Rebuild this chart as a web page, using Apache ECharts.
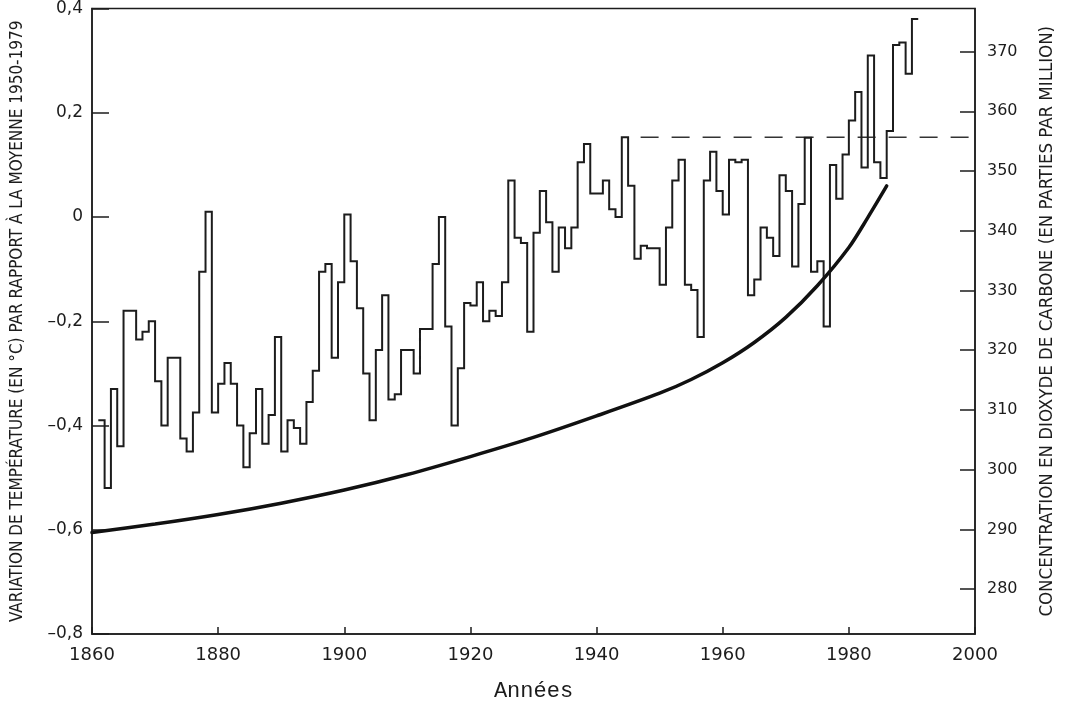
<!DOCTYPE html>
<html>
<head>
<meta charset="utf-8">
<script src="https://cdn.jsdelivr.net/npm/echarts@6.0.0/dist/echarts.min.js"></script>
<style>
html,body{margin:0;padding:0;background:#ffffff;}
#chart{width:1070px;height:708px;}
</style>
</head>
<body>
<div id="chart"></div>
<script>
// ---- data ----
const tempFirstYear = 1861;
// annual temperature anomaly (°C, relative to 1950-1979), 1861 .. 1990
const tempAnomaly = [
  -0.39, -0.52, -0.33, -0.44, -0.18, -0.18, -0.235, -0.22, -0.20, -0.315,   // 1861-1870
  -0.40, -0.27, -0.27, -0.425, -0.45, -0.375, -0.105, 0.01, -0.375, -0.32,  // 1871-1880
  -0.28, -0.32, -0.40, -0.48, -0.415, -0.33, -0.435, -0.38, -0.23, -0.45,   // 1881-1890
  -0.39, -0.405, -0.435, -0.355, -0.295, -0.105, -0.09, -0.27, -0.125, 0.005, // 1891-1900
  -0.085, -0.175, -0.30, -0.39, -0.255, -0.15, -0.35, -0.34, -0.255, -0.255, // 1901-1910
  -0.30, -0.215, -0.215, -0.09, 0.0, -0.21, -0.40, -0.29, -0.165, -0.17,    // 1911-1920
  -0.125, -0.20, -0.18, -0.19, -0.125, 0.07, -0.04, -0.05, -0.22, -0.03,    // 1921-1930
  0.05, -0.01, -0.105, -0.02, -0.06, -0.02, 0.105, 0.14, 0.045, 0.045,      // 1931-1940
  0.07, 0.015, 0.0, 0.153, 0.06, -0.08, -0.055, -0.06, -0.06, -0.13,        // 1941-1950
  -0.02, 0.07, 0.11, -0.13, -0.14, -0.23, 0.07, 0.125, 0.05, 0.005,         // 1951-1960
  0.11, 0.105, 0.11, -0.15, -0.12, -0.02, -0.04, -0.075, 0.08, 0.05,        // 1961-1970
  -0.095, 0.025, 0.152, -0.105, -0.085, -0.21, 0.10, 0.035, 0.12, 0.185,    // 1971-1980
  0.24, 0.095, 0.31, 0.105, 0.075, 0.165, 0.33, 0.335, 0.275, 0.38         // 1981-1990
];
// CO2 concentration (ppm)
const co2Years = [1860, 1870, 1880, 1890, 1900, 1910, 1920, 1930, 1940, 1950, 1955, 1960, 1965, 1970, 1975, 1980, 1983, 1986];
const co2Ppm   = [289.5, 290.9, 292.5, 294.4, 296.6, 299.2, 302.2, 305.4, 309.0, 312.8, 315.1, 317.9, 321.3, 325.5, 330.8, 337.2, 342.2, 347.5];
// tick labels
const yearTicks = [1860, 1880, 1900, 1920, 1940, 1960, 1980, 2000];
const tempTicks = [-0.8, -0.6, -0.4, -0.2, 0, 0.2, 0.4];
const co2Ticks  = [280, 290, 300, 310, 320, 330, 340, 350, 360, 370];
// dashed reference line: level of the pre-1946 maximum, drawn from the end of that year to the axis end
const dashedFromYear = 1945;

// ---- build series data ----
const years = tempAnomaly.map((v, i) => tempFirstYear + i);
const stepData = years.map((y, i) => [y, tempAnomaly[i]]);
stepData.push([years[years.length - 1] + 1, tempAnomaly[tempAnomaly.length - 1]]);
const co2Data = co2Years.map((y, i) => [y, co2Ppm[i]]);
const peakLevel = Math.max(...tempAnomaly.filter((v, i) => years[i] < dashedFromYear));
const dashedData = [[dashedFromYear, peakLevel], [yearTicks[yearTicks.length - 1], peakLevel]];

const INK = '#1c1c1c';
const numFont = "'DejaVu Sans', 'Liberation Sans', sans-serif";
const titleFont = "'DejaVu Sans Condensed', 'Liberation Sans Narrow', 'Liberation Sans', sans-serif";

function fmtTemp(v) {
  const r = Math.round(v * 10) / 10;
  if (r === 0) return '0';
  const s = Math.abs(r).toFixed(1).replace('.', ',');
  return r < 0 ? '\u2013' + s : s;
}

const chart = echarts.init(document.getElementById('chart'), null, {renderer: 'canvas'});
chart.setOption({
  animation: false,
  backgroundColor: '#ffffff',
  grid: {
    left: 92, right: 95, top: 7, bottom: 74,
    show: true, borderColor: INK, borderWidth: 1.5, backgroundColor: 'transparent'
  },
  xAxis: {
    type: 'value',
    min: yearTicks[0], max: yearTicks[yearTicks.length - 1], interval: 20,
    name: 'Ann\u00e9es',
    nameLocation: 'middle',
    nameGap: 46,
    nameTextStyle: {fontFamily: "'Liberation Mono', 'DejaVu Sans Mono', monospace", fontSize: 22, color: INK},
    axisLine: {show: true, onZero: false, lineStyle: {color: INK, width: 1.5}},
    axisTick: {show: true, inside: true, length: 7, lineStyle: {color: INK, width: 1.5}},
    axisLabel: {show: true, margin: 12, fontFamily: numFont, fontSize: 18, color: INK,
      showMinLabel: true, showMaxLabel: true, formatter: v => String(v)},
    splitLine: {show: false}
  },
  yAxis: [
    {
      type: 'value', position: 'left',
      min: tempTicks[0], max: tempTicks[tempTicks.length - 1], interval: 0.2,
      name: 'VARIATION DE TEMP\u00c9RATURE (EN \u00b0C) PAR RAPPORT \u00c0 LA MOYENNE 1950-1979',
      nameLocation: 'middle', nameRotate: 90, nameGap: 66,
      nameTextStyle: {fontFamily: titleFont, fontSize: 17, color: INK},
      axisLine: {show: true, onZero: false, lineStyle: {color: INK, width: 1.5}},
      axisTick: {show: true, inside: true, length: 17, lineStyle: {color: INK, width: 1.5}},
      axisLabel: {show: true, margin: 9, fontFamily: numFont, fontSize: 17, color: INK,
        showMinLabel: true, showMaxLabel: true, formatter: fmtTemp},
      splitLine: {show: false}
    },
    {
      type: 'value', position: 'right',
      min: 272.5, max: 377.2,
      name: 'CONCENTRATION EN DIOXYDE DE CARBONE (EN PARTIES PAR MILLION)',
      nameLocation: 'middle', nameRotate: 90, nameGap: 63,
      nameTextStyle: {fontFamily: titleFont, fontSize: 18.5, color: INK},
      axisLine: {show: true, onZero: false, lineStyle: {color: INK, width: 1.5}},
      axisTick: {show: true, inside: true, length: 15, customValues: co2Ticks, lineStyle: {color: INK, width: 1.5}},
      axisLabel: {show: true, margin: 12, fontFamily: numFont, fontSize: 16, color: INK,
        customValues: co2Ticks, formatter: v => String(v)},
      splitLine: {show: false}
    }
  ],
  series: [
    {
      name: 'dashed', type: 'line', yAxisIndex: 0, data: dashedData,
      showSymbol: false, silent: true,
      lineStyle: {color: '#333', width: 1.3, type: [18, 13], dashOffset: 18.5}
    },
    {
      name: 'temperature', type: 'line', yAxisIndex: 0, data: stepData,
      step: 'end', showSymbol: false, silent: true,
      lineStyle: {color: INK, width: 2, join: 'miter'}
    },
    {
      name: 'co2', type: 'line', yAxisIndex: 1, data: co2Data,
      smooth: 0.3, showSymbol: false, silent: true,
      lineStyle: {color: '#111', width: 3.5, cap: 'round'}
    }
  ]
});
</script>
</body>
</html>
